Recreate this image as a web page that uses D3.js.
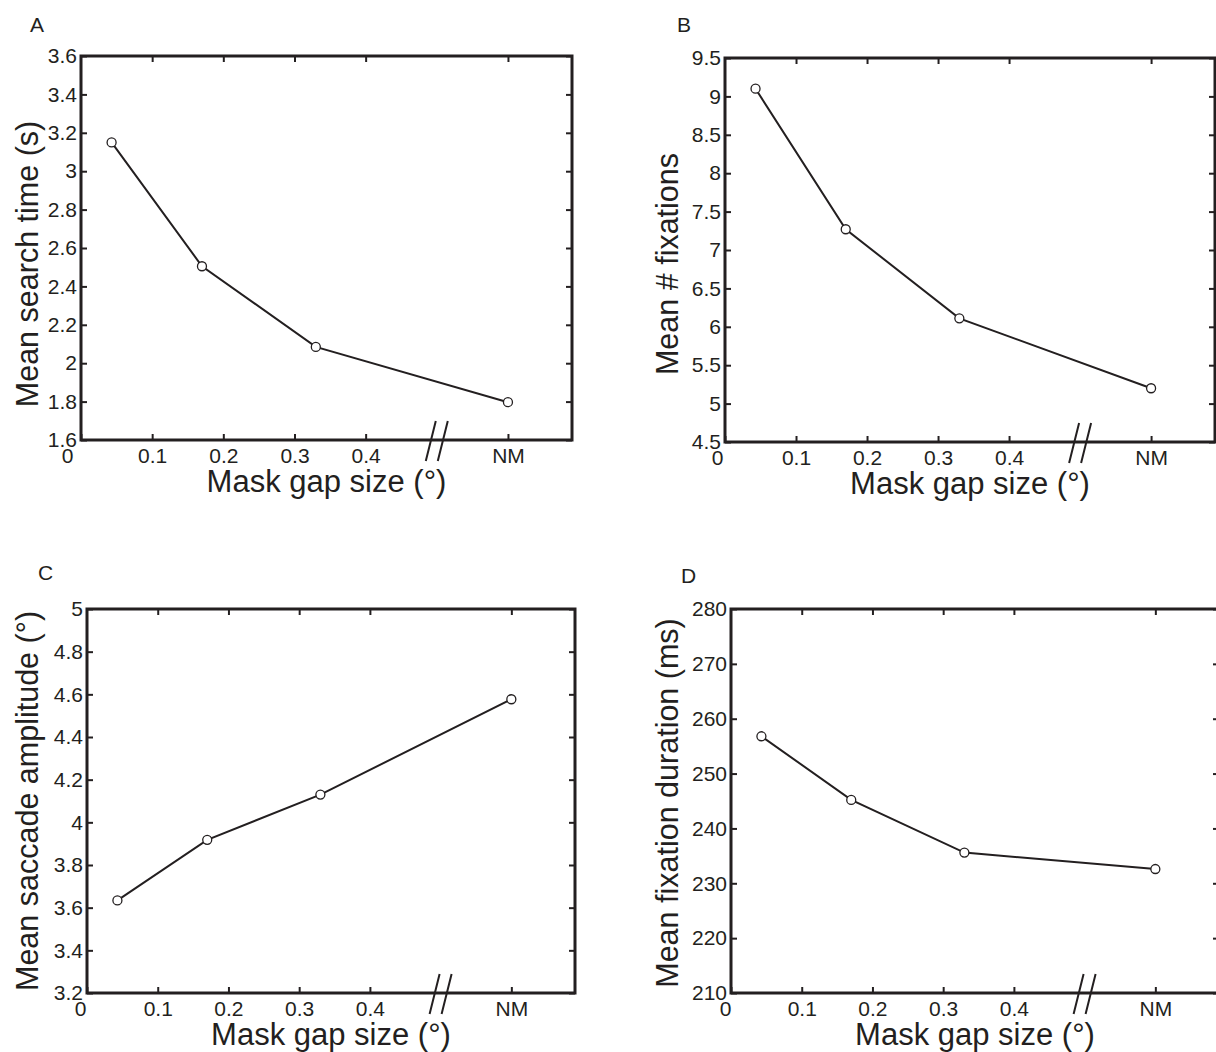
<!DOCTYPE html>
<html>
<head>
<meta charset="utf-8">
<script src="https://cdn.jsdelivr.net/npm/d3@7"></script>
<style>
  body { margin: 0; background: #fff; }
  svg text { font-family: "Liberation Sans", Arial, sans-serif; fill: #231f20; }
</style>
</head>
<body>
<div id="graph"></div>
<script>

// x positions of the four conditions (NM = no mask, drawn after the axis break)
var gapSizes = [0.043, 0.17, 0.33, 0.6];
var xTickVals = [0, 0.1, 0.2, 0.3, 0.4, 0.6];
var xTickLabels = ["0", "0.1", "0.2", "0.3", "0.4", "NM"];
var breakAt = 0.5;

var searchTime   = [3.15, 2.505, 2.085, 1.797];
var numFixations = [9.10, 7.27, 6.11, 5.20];
var saccadeAmp   = [3.634, 3.918, 4.13, 4.577];
var fixDuration  = [256.8, 245.2, 235.6, 232.6];

var searchTicks   = [1.6, 1.8, 2, 2.2, 2.4, 2.6, 2.8, 3, 3.2, 3.4, 3.6];
var fixationTicks = [4.5, 5, 5.5, 6, 6.5, 7, 7.5, 8, 8.5, 9, 9.5];
var saccadeTicks  = [3.2, 3.4, 3.6, 3.8, 4, 4.2, 4.4, 4.6, 4.8, 5];
var durationTicks = [210, 220, 230, 240, 250, 260, 270, 280];

var yTitles = ["Mean search time (s)", "Mean # fixations", "Mean saccade amplitude (\u00b0)", "Mean fixation duration (ms)"];
var xTitle = "Mask gap size (\u00b0)";
var letters = ["A", "B", "C", "D"];

var ink = "#231f20";

// layout of each panel's box
var panels = [
  { left: 81,  top: 56,  w: 491, h: 384, values: searchTime,   ticks: searchTicks,   titleX: 38,  titleShift: 16, zeroShift: -14, letterX: 30,  letterY: 32 },
  { left: 725, top: 58,  w: 490, h: 384, values: numFixations, ticks: fixationTicks, titleX: 678, titleShift: 14, zeroShift: -8,  letterX: 677, letterY: 32 },
  { left: 87,  top: 609, w: 488, h: 384, values: saccadeAmp,   ticks: saccadeTicks,  titleX: 38,  titleShift: 0,  zeroShift: -7,  letterX: 38,  letterY: 580 },
  { left: 731, top: 609, w: 488, h: 384, values: fixDuration,  ticks: durationTicks, titleX: 678, titleShift: 2,  zeroShift: -6,  letterX: 681, letterY: 583 }
];

var svg = d3.select("#graph").append("svg")
    .attr("width", 1216)
    .attr("height", 1052);

panels.forEach(function(p, i) {
  drawPanel(p, i);
});

function fmt(v) { return String(+v.toFixed(2)); }

function drawPanel(p, i) {
  var x = d3.scaleLinear().domain([0, 0.69]).range([0, p.w]);
  var y = d3.scaleLinear().domain(d3.extent(p.ticks)).range([p.h, 0]);

  var g = svg.append("g").attr("transform", "translate(" + p.left + "," + p.top + ")");

  // inward ticks on all four sides
  var bottom = g.append("g").attr("transform", "translate(0," + p.h + ")")
      .call(d3.axisBottom(x).tickValues(xTickVals).tickSizeInner(-6).tickSizeOuter(0).tickPadding(8)
        .tickFormat(function(d, k) { return xTickLabels[k]; }));
  bottom.selectAll("text").attr("font-size", 21)
      .attr("dx", function(d) { return d === 0 ? p.zeroShift : 0; });

  g.append("g")
      .call(d3.axisTop(x).tickValues(xTickVals.slice(1)).tickSizeInner(-6).tickSizeOuter(0).tickFormat(""));

  var left = g.append("g")
      .call(d3.axisLeft(y).tickValues(p.ticks).tickSizeInner(-6).tickSizeOuter(0).tickPadding(4).tickFormat(fmt));
  left.selectAll("text").attr("font-size", 21);

  g.append("g").attr("transform", "translate(" + p.w + ",0)")
      .call(d3.axisRight(y).tickValues(p.ticks).tickSizeInner(-6).tickSizeOuter(0).tickFormat(""));

  g.selectAll(".domain").remove();
  g.selectAll(".tick line").attr("stroke", ink).attr("stroke-width", 2);

  // box
  g.append("rect")
      .attr("width", p.w).attr("height", p.h)
      .attr("fill", "none").attr("stroke", ink).attr("stroke-width", 3);

  // axis break marks
  var bx = x(breakAt);
  [-6, 6].forEach(function(off) {
    g.append("line")
        .attr("x1", bx + off - 5).attr("y1", p.h + 21)
        .attr("x2", bx + off + 5).attr("y2", p.h - 19)
        .attr("stroke", ink).attr("stroke-width", 2);
  });

  // data line and markers
  var pts = p.values.map(function(v, k) { return [gapSizes[k], v]; });
  var line = d3.line().x(function(d) { return x(d[0]); }).y(function(d) { return y(d[1]); });
  g.append("path").datum(pts)
      .attr("d", line)
      .attr("fill", "none").attr("stroke", ink).attr("stroke-width", 2);
  g.selectAll("circle").data(pts).enter().append("circle")
      .attr("cx", function(d) { return x(d[0]); })
      .attr("cy", function(d) { return y(d[1]); })
      .attr("r", 4.5)
      .attr("fill", "#fff").attr("stroke", ink).attr("stroke-width", 1.3);

  // titles
  g.append("text")
      .attr("x", p.w / 2).attr("y", p.h + 52)
      .attr("text-anchor", "middle").attr("font-size", 31)
      .text(xTitle);

  svg.append("text")
      .attr("transform", "translate(" + p.titleX + "," + (p.top + p.h / 2 + p.titleShift) + ") rotate(-90)")
      .attr("text-anchor", "middle").attr("font-size", 30.5)
      .text(yTitles[i]);

  svg.append("text")
      .attr("x", p.letterX).attr("y", p.letterY)
      .attr("font-size", 21)
      .text(letters[i]);
}

</script>
</body>
</html>
